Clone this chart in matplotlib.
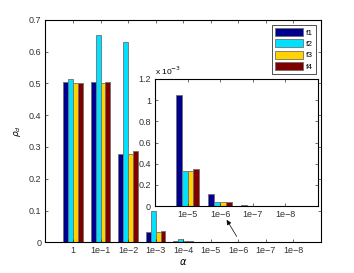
import matplotlib
matplotlib.use("Agg")
import matplotlib.pyplot as plt
import numpy as np

categories = ["1", "1e\u22121", "1e\u22122", "1e\u22123", "1e\u22124", "1e\u22125", "1e\u22126", "1e\u22127", "1e\u22128"]
series_names = ["f1", "f2", "f3", "f4"]
f1 = [0.505, 0.504, 0.278, 0.033, 0.003, 1.05e-3, 0.11e-3, 0.012e-3, 0.001e-3]
f2 = [0.513, 0.653, 0.630, 0.100, 0.010, 0.33e-3, 0.035e-3, 0.004e-3, 0.0004e-3]
f3 = [0.500, 0.503, 0.278, 0.033, 0.003, 0.33e-3, 0.035e-3, 0.004e-3, 0.0004e-3]
f4 = [0.500, 0.505, 0.288, 0.035, 0.003, 0.35e-3, 0.035e-3, 0.004e-3, 0.0004e-3]
inset_categories = categories[5:]
colors = ["#00008F", "#00E0FF", "#FFD200", "#800000"]

plt.rcParams['font.family'] = ['Liberation Sans', 'DejaVu Sans']
plt.rcParams['mathtext.fontset'] = 'dejavusans'

fig = plt.figure(figsize=(3.54, 2.73), dpi=100)
ax = fig.add_axes([0.1285, 0.1125, 0.7775, 0.8145])

series = [f1, f2, f3, f4]
x = np.arange(1, len(categories) + 1)
w = 0.18
for i, (s, c, n) in enumerate(zip(series, colors, series_names)):
    ax.bar(x + (i - 1.5) * w, s, width=w, color=c, edgecolor="#707070", linewidth=0.6, label=n)

ax.set_xlim(0, 10)
ax.set_ylim(0, 0.7)
ax.set_xticks(x)
ax.set_xticklabels(categories)
ax.set_yticks(np.arange(0, 0.71, 0.1))
ax.set_yticklabels(["0", "0.1", "0.2", "0.3", "0.4", "0.5", "0.6", "0.7"])
ax.tick_params(direction='in', length=2.5, width=0.5, labelsize=6.5, top=True, right=True, pad=3, colors='#333333')
for sp in ax.spines.values():
    sp.set_linewidth(0.8)
ax.set_xlabel(r"$\alpha$", fontsize=7, labelpad=1)
ax.set_ylabel(r"$\rho_d$", fontsize=6.5, labelpad=4)

leg = ax.legend(loc='upper right', fontsize=6, frameon=True, fancybox=False, edgecolor='black',
                handlelength=3.4, handleheight=1.1, borderpad=0.35, labelspacing=0.3,
                handletextpad=0.3, borderaxespad=0.6)
leg.get_frame().set_linewidth(0.6)

# inset
ins = fig.add_axes([0.438, 0.245, 0.46, 0.466])
xi = np.arange(1, len(inset_categories) + 1)
for i, (s, c) in enumerate(zip(series, colors)):
    vals = np.array(s[5:]) * 1e3
    ins.bar(xi + (i - 1.5) * w, vals, width=w, color=c, edgecolor="#707070", linewidth=0.6)
ins.set_xlim(0, 5)
ins.set_ylim(0, 1.2)
ins.set_xticks(xi)
ins.set_xticklabels(inset_categories)
ins.set_yticks(np.arange(0, 1.21, 0.2))
ins.set_yticklabels(["0", "0.2", "0.4", "0.6", "0.8", "1", "1.2"])
ins.tick_params(direction='in', length=2.5, width=0.5, labelsize=6.5, top=True, right=True, pad=3, colors='#333333')
for sp in ins.spines.values():
    sp.set_linewidth(0.8)
ins.text(0.0, 1.015, r"x 10$^{-3}$", transform=ins.transAxes, fontsize=6, ha='left', va='bottom')

# arrow from main axis 1e-6 to inset
ax.annotate("", xy=(6.53, 0.078), xytext=(7.0, 0.011),
            arrowprops=dict(arrowstyle='-|>', color='black', lw=0.5, mutation_scale=7))

fig.savefig("out.png", dpi=100)
